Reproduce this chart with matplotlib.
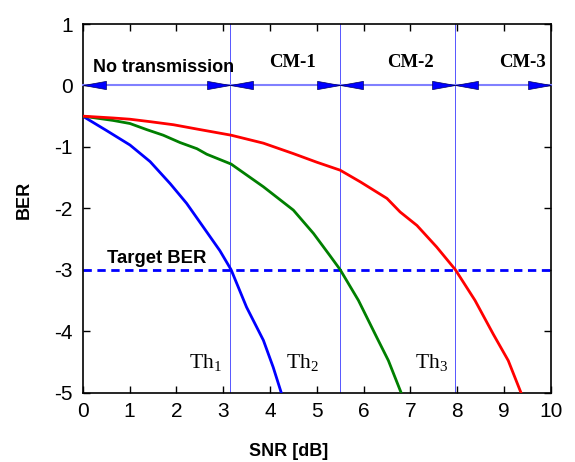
import matplotlib.pyplot as plt
from matplotlib.path import Path

plt.rcParams['font.family'] = ['Liberation Sans', 'DejaVu Sans']
plt.rcParams['mathtext.fontset'] = 'custom'
plt.rcParams['mathtext.rm'] = 'Liberation Serif'
plt.rcParams['axes.unicode_minus'] = False

# BER curves (log10 scale) for the three coding/modulation modes
snr_cm1 = [0, 0.5, 1.01, 1.44, 1.87, 2.22, 2.58, 2.93, 3.17, 3.5, 3.86, 4.07, 4.24]
ber_cm1 = [-0.5, -0.73, -0.97, -1.24, -1.6, -1.92, -2.31, -2.69, -3.0, -3.61, -4.15, -4.59, -5.0]

snr_cm2 = [0, 0.65, 1.01, 1.37, 1.72, 2.08, 2.44, 2.65, 3.17, 3.86, 4.5, 4.93, 5.28,
           5.5, 5.89, 6.28, 6.53, 6.8]
ber_cm2 = [-0.5, -0.57, -0.62, -0.72, -0.81, -0.93, -1.03, -1.12, -1.28, -1.65, -2.03,
           -2.41, -2.77, -3.0, -3.5, -4.1, -4.48, -5.0]

snr_cm3 = [0, 0.65, 1.01, 1.44, 1.94, 2.44, 3.17, 3.86, 4.5, 5.0, 5.5, 5.93, 6.5, 6.78,
           7.14, 7.56, 7.96, 8.38, 8.77, 9.09, 9.36]
ber_cm3 = [-0.5, -0.53, -0.55, -0.59, -0.64, -0.71, -0.81, -0.94, -1.11, -1.25, -1.38,
           -1.57, -1.84, -2.06, -2.28, -2.63, -3.0, -3.5, -4.05, -4.48, -5.0]

thresholds = [3.15, 5.5, 7.95]
target_ber = -3
region_labels = ['No transmission', 'CM-1', 'CM-2', 'CM-3']
region_label_x = [0.22, 4.48, 7.0, 9.4]
th_labels = [r'$\mathrm{Th}_1$', r'$\mathrm{Th}_2$', r'$\mathrm{Th}_3$']
th_label_x = [2.28, 4.35, 7.1]

fig = plt.figure(figsize=(5.75, 4.62), dpi=100)
ax = fig.add_axes([0.1438, 0.1504, 0.8142, 0.7976])

# threshold markers
for th in thresholds:
    ax.axvline(th, color='#2a2aff', lw=0.7, alpha=0.8, zorder=1)

ax.axhline(target_ber, color='#0000ff', lw=2, ls=(0, (3, 2)), zorder=2)

ax.plot(snr_cm1, ber_cm1, color='#0000ff', lw=2, zorder=3)
ax.plot(snr_cm2, ber_cm2, color='#007f00', lw=2, zorder=3)
ax.plot(snr_cm3, ber_cm3, color='#ff0000', lw=2, zorder=3)

# double-headed arrows marking the operating regions: shaft + slim triangle heads
edges = [0] + thresholds + [10]
ax.plot([edges[0], edges[-1]], [0, 0], color='#8080ff', lw=1.5, zorder=4, clip_on=False)
head_r = Path([(-1, -0.18), (0, 0), (-1, 0.18), (-1, -0.18)], closed=True)
head_l = Path([(1, -0.18), (0, 0), (1, 0.18), (1, -0.18)], closed=True)
ax.plot(edges[:-1], [0] * (len(edges) - 1), ls='none', marker=head_l, ms=33,
        mfc='#0000ff', mec='#000060', mew=0.5, zorder=5, clip_on=False)
ax.plot(edges[1:], [0] * (len(edges) - 1), ls='none', marker=head_r, ms=33,
        mfc='#0000ff', mec='#000060', mew=0.5, zorder=5, clip_on=False)

ax.text(region_label_x[0], 0.3, region_labels[0], fontsize=13, fontweight='bold',
        ha='left', va='center')
for x, lab in zip(region_label_x[1:], region_labels[1:]):
    ax.text(x, 0.38, lab, fontsize=13.5, fontweight='bold', family='Liberation Serif',
            ha='center', va='center')

ax.text(0.52, -2.82, 'Target BER', fontsize=13.3, fontweight='bold', ha='left', va='center')
for x, lab in zip(th_label_x, th_labels):
    ax.text(x, -4.6, lab, fontsize=15.5, ha='left', va='baseline')

ax.set_xlim(0, 10)
ax.set_ylim(-5, 1)
ax.set_xticks(range(0, 11))
ax.set_yticks(range(-5, 2))
ax.tick_params(direction='in', length=5, width=1, labelsize=15, pad=7,
               top=True, right=True)
for s in ax.spines.values():
    s.set_linewidth(1.2)

ax.set_xlabel('SNR [dB]', fontsize=13, fontweight='bold', va='center')
ax.set_ylabel('BER', fontsize=13, fontweight='bold', va='center')
ax.xaxis.set_label_coords(0.4405, -0.159)
ax.yaxis.set_label_coords(-0.124, 0.522)

fig.savefig('out.png', dpi=100)
